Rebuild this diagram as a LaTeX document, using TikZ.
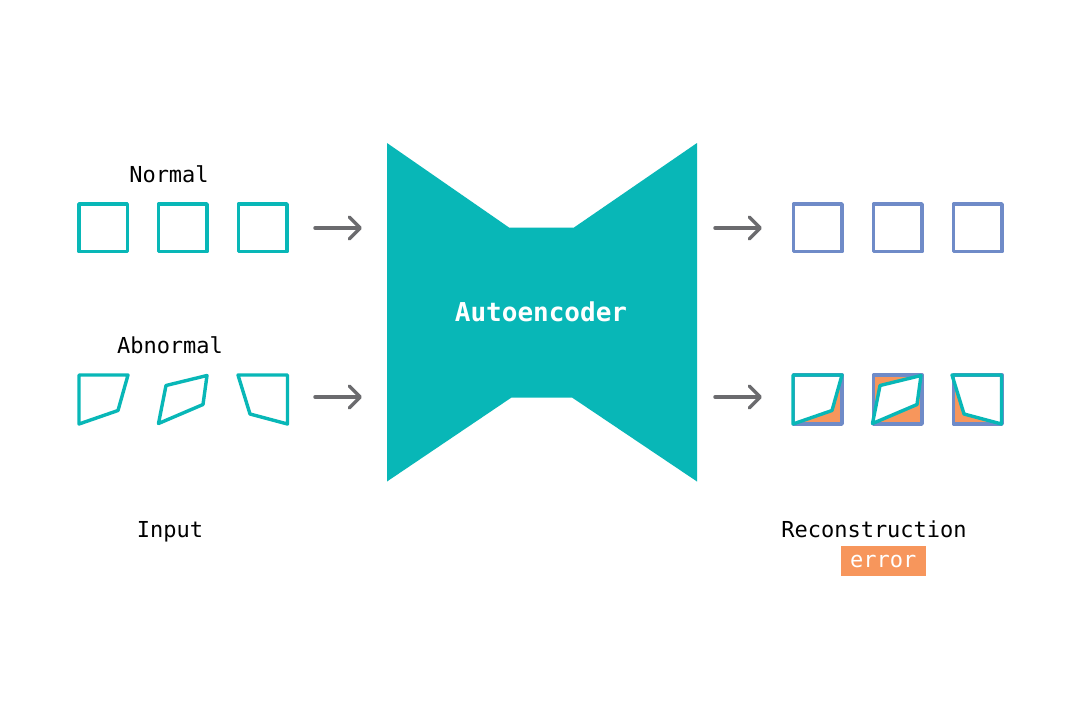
\documentclass[tikz,border=0pt]{standalone}
\usepackage{fontspec}
\setmonofont{DejaVu Sans Mono}
\usetikzlibrary{arrows.meta}
\definecolor{teal1}{HTML}{08B7B7}
\definecolor{blue1}{HTML}{6F8BC8}
\definecolor{orange1}{HTML}{F7965C}
\definecolor{gray1}{HTML}{6B6B6E}
\tikzset{
  inshape/.style={draw=teal1,line width=3.4pt,line join=round,line cap=round},
  outshape/.style={draw=blue1,line width=3.4pt,line join=round,line cap=round},
  errfill/.style={fill=orange1},
  flowarrow/.style={draw=gray1,line width=3.5pt,line cap=round,-{Straight Barb[length=11pt,width=22pt,round]}},
  lbl/.style={font=\ttfamily\fontsize{22}{24}\selectfont,anchor=base,inner sep=0pt,text=black},
}
\begin{document}
\begin{tikzpicture}[x=1pt,y=-1pt]
\useasboundingbox[fill=white] (0,0) rectangle (1081,721);
% autoencoder body
\fill[teal1] (387,143) -- (509,227.5) -- (574,227.5) -- (697,143) -- (697,481.5) -- (572,397.5) -- (511.5,397.5) -- (387,481.5) -- cycle;
\node[font=\ttfamily\bfseries\fontsize{26}{28}\selectfont,text=white,anchor=base,inner sep=0pt] (ae) at (541,321.5) {Autoencoder};
% labels
\node[lbl] (normal) at (169,182.5) {Normal};
\node[lbl] (abnormal) at (170,353.5) {Abnormal};
\node[lbl] (input) at (170,537) {Input};
\node[lbl] (recon) at (874,537) {Reconstruction};
\node[lbl,text=white,fill=orange1,anchor=center,minimum width=85pt,minimum height=30.5pt] (err) at (883.2,561) {error};
% normal inputs
\draw[inshape] (79,204) rectangle (127.3,251.7);
\draw[inshape] (158.5,204) rectangle (207,251.7);
\draw[inshape] (238.3,204) rectangle (287,251.7);
% abnormal inputs
\draw[inshape] (79,375) -- (128,375) -- (118,410.5) -- (79,424) -- cycle;
\draw[inshape] (166,385.5) -- (207,375.5) -- (203,404.5) -- (158.5,423.5) -- cycle;
\draw[inshape] (238,375) -- (287.5,375) -- (287.5,424) -- (250,414) -- cycle;
% normal outputs
\draw[outshape] (793.5,204) rectangle (842,251.7);
\draw[outshape] (873.5,204) rectangle (922,251.7);
\draw[outshape] (953.5,204) rectangle (1002,251.7);
% abnormal outputs
\fill[errfill] (793.5,375) rectangle (842,424);
\fill[errfill] (873.5,375) rectangle (922,424);
\fill[errfill] (953.5,375) rectangle (1002,424);
\fill[white] (793,375) -- (842,375) -- (832,410.5) -- (793,424) -- cycle;
\fill[white] (880,385.5) -- (921,375.5) -- (917,404.5) -- (872.5,423.5) -- cycle;
\fill[white] (952,375) -- (1001.5,375) -- (1001.5,424) -- (964,414) -- cycle;
\draw[outshape] (793.5,375) rectangle (842,424);
\draw[outshape] (873.5,375) rectangle (922,424);
\draw[outshape] (953.5,375) rectangle (1002,424);
\draw[inshape] (793,375) -- (842,375) -- (832,410.5) -- (793,424) -- cycle;
\draw[inshape] (880,385.5) -- (921,375.5) -- (917,404.5) -- (872.5,423.5) -- cycle;
\draw[inshape] (952,375) -- (1001.5,375) -- (1001.5,424) -- (964,414) -- cycle;
% arrows
\coordinate (a1s) at (315,228); \coordinate (a1e) at (362,228);
\coordinate (a2s) at (315,397); \coordinate (a2e) at (362,397);
\coordinate (a3s) at (715,228); \coordinate (a3e) at (762,228);
\coordinate (a4s) at (715,397); \coordinate (a4e) at (762,397);
\draw[flowarrow] (a1s) -- (a1e);
\draw[flowarrow] (a2s) -- (a2e);
\draw[flowarrow] (a3s) -- (a3e);
\draw[flowarrow] (a4s) -- (a4e);
\end{tikzpicture}
\end{document}
